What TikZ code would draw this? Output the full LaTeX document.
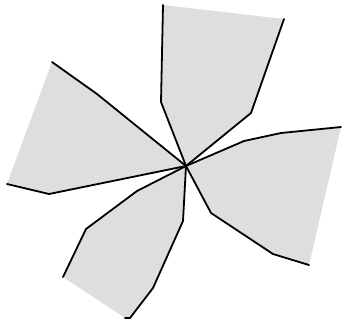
\documentclass[tikz,border=0pt]{standalone}
\usetikzlibrary{calc}

\begin{document}
\begin{tikzpicture}[
  x=1pt, y=-1pt,
  edge/.style={draw=black, line width=1.8pt, line join=round, line cap=round},
  sector/.style={fill=black!13, draw=none},
]
\useasboundingbox (0,0) rectangle (342,322);

% ---- common centre of the eight arms ------------------------------------
\coordinate (c) at (186,166);

% ---- shaded sectors (top, right, lower left, left) ------------------------
\fill[sector] (163,5) -- (161,102) -- (c) -- (251,113) -- (284,19) -- cycle;
\fill[sector] (341,127) -- (281,133) -- (244,141) -- (c) -- (211,213) -- (273,254) -- (309,265) -- cycle;
\fill[sector] (c) -- (183,221) -- (153,288) -- (130,318) -- (125,318) -- (63,277) -- (86,229) -- (137,191) -- cycle;
\fill[sector] (7,184) -- (49,194) -- (c) -- (97,94) -- (52,62) -- cycle;

% ---- arms ------------------------------------------------------------------
\draw[edge] (163,5) -- (161,102) -- (c);
\draw[edge] (284,19) -- (251,113) -- (c);
\draw[edge] (341,127) -- (281,133) -- (244,141) -- (c);
\draw[edge] (c) -- (211,213) -- (273,254) -- (309,265);
\draw[edge] (c) -- (183,221) -- (153,288) -- (130,318) -- (125,318);
\draw[edge] (63,277) -- (86,229) -- (137,191) -- (c);
\draw[edge] (7,184) -- (49,194) -- (c);
\draw[edge] (52,62) -- (97,94) -- (c);

\end{tikzpicture}
\end{document}
